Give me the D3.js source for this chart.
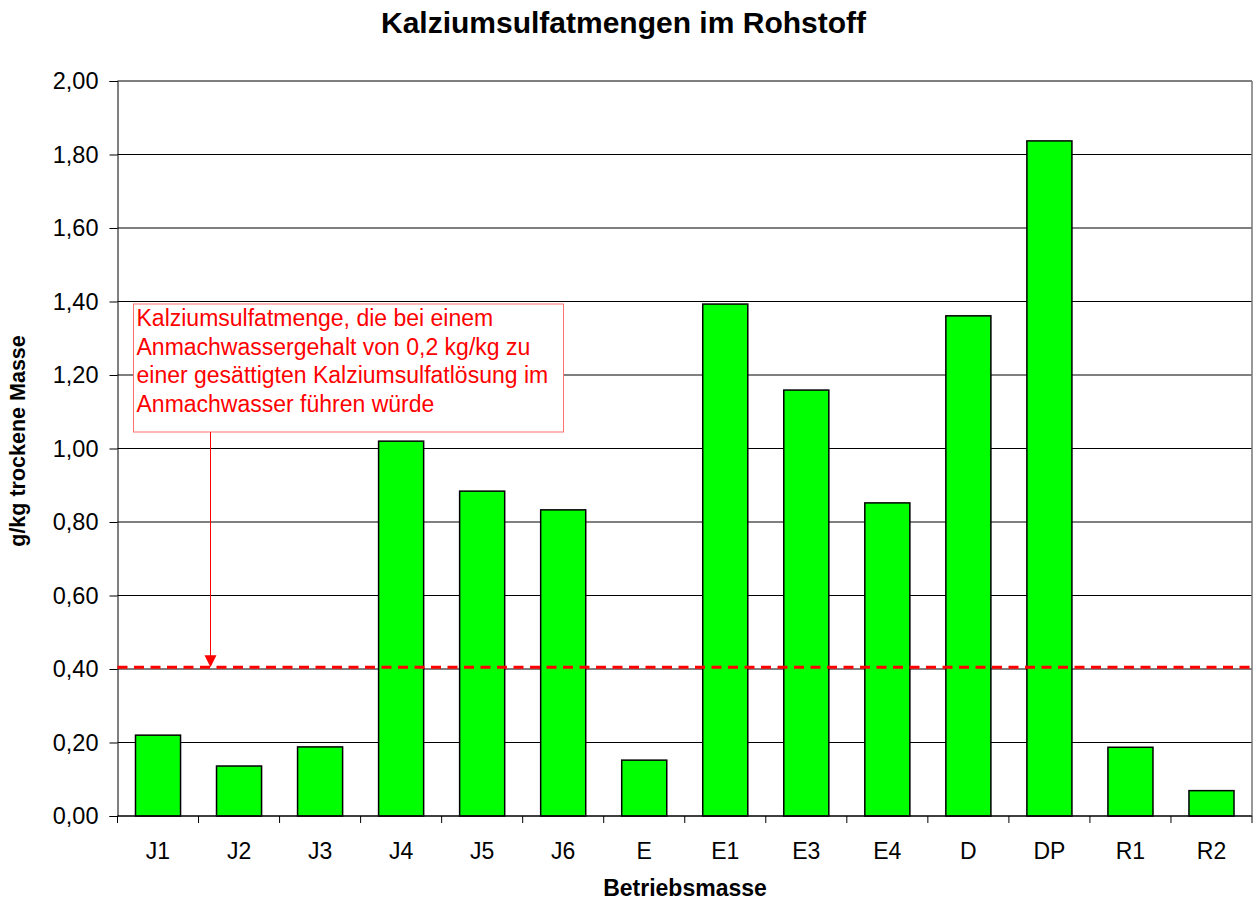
<!DOCTYPE html>
<html>
<head>
<meta charset="utf-8">
<script src="https://cdn.jsdelivr.net/npm/d3@7/dist/d3.min.js"></script>
<style>
  body { margin: 0; background: #fff; }
  svg { font-family: Arial, "Liberation Sans", sans-serif; }
</style>
</head>
<body>
<div id="chart"></div>
<script>
// values (g/kg trockene Masse)
const CATEGORIES = ["J1", "J2", "J3", "J4", "J5", "J6", "E", "E1", "E3", "E4", "D", "DP", "R1", "R2"];
const VALUES = [0.22, 0.136, 0.188, 1.02, 0.884, 0.833, 0.152, 1.393, 1.159, 0.852, 1.361, 1.837, 0.187, 0.069];
const Y_TICKS = [0, 0.2, 0.4, 0.6, 0.8, 1.0, 1.2, 1.4, 1.6, 1.8, 2.0];
const LIMIT = 0.405;
const NOTE_LINES = [
  "Kalziumsulfatmenge, die bei einem",
  "Anmachwassergehalt von 0,2 kg/kg zu",
  "einer gesättigten Kalziumsulfatlösung im",
  "Anmachwasser führen würde"
];

const width = 1258, height = 900;
const margin = { top: 81, left: 117.5, right: 6, bottom: 84 };

const svg = d3.select('#chart').append('svg')
  .attr('width', width)
  .attr('height', height);

const x = d3.scaleBand()
  .domain(CATEGORIES)
  .range([margin.left, width - margin.right])
  .paddingInner(0.444)
  .paddingOuter(0.222);

const y = d3.scaleLinear()
  .domain([0, 2])
  .range([height - margin.bottom, margin.top]);

const fmt = d => d3.format(".2f")(d).replace(".", ",");

// gridlines
svg.append('g')
  .selectAll('line')
  .data(Y_TICKS)
  .enter()
  .append('line')
  .attr('x1', margin.left)
  .attr('x2', width - margin.right)
  .attr('y1', d => y(d))
  .attr('y2', d => y(d))
  .attr('stroke', '#000')
  .attr('stroke-width', 1);

// right border
svg.append('line')
  .attr('x1', width - margin.right).attr('x2', width - margin.right)
  .attr('y1', y(2)).attr('y2', y(0))
  .attr('stroke', '#777').attr('stroke-width', 1.5);

// bars
svg.append('g')
  .selectAll('rect')
  .data(VALUES)
  .enter()
  .append('rect')
  .attr('x', (d, i) => x(CATEGORIES[i]))
  .attr('width', x.bandwidth())
  .attr('y', d => y(d))
  .attr('height', d => y(0) - y(d))
  .attr('fill', '#00ff00')
  .attr('stroke', '#000')
  .attr('stroke-width', 1.5);

// y axis
const yAxis = svg.append('g')
  .attr('transform', `translate(${margin.left},0)`)
  .call(d3.axisLeft(y).tickValues(Y_TICKS).tickFormat(fmt).tickSize(8).tickPadding(11));
yAxis.select('.domain').attr('stroke', '#000');
yAxis.selectAll('text').attr('font-size', 23.5).attr('fill', '#000')
  .attr('font-family', 'Arial, "Liberation Sans", sans-serif');

// x axis: ticks between categories
const step = x.step();
const bounds = d3.range(CATEGORIES.length + 1).map(i => margin.left + i * step);
svg.append('line')
  .attr('x1', margin.left).attr('x2', width - margin.right)
  .attr('y1', y(0)).attr('y2', y(0))
  .attr('stroke', '#000');
svg.append('g')
  .selectAll('line')
  .data(bounds)
  .enter()
  .append('line')
  .attr('x1', d => d).attr('x2', d => d)
  .attr('y1', y(0)).attr('y2', y(0) + 7)
  .attr('stroke', '#000');
svg.append('g')
  .selectAll('text')
  .data(CATEGORIES)
  .enter()
  .append('text')
  .attr('x', d => x(d) + x.bandwidth() / 2)
  .attr('y', 859)
  .attr('text-anchor', 'middle')
  .attr('font-size', 23)
  .text(d => d);

// limit line
svg.append('line')
  .attr('x1', margin.left).attr('x2', width - margin.right)
  .attr('y1', y(LIMIT)).attr('y2', y(LIMIT))
  .attr('stroke', '#ff0000')
  .attr('stroke-width', 3)
  .attr('stroke-dasharray', '10,6.5');

// annotation box
const box = { x: 133.5, y: 304, w: 430, h: 128 };
svg.append('rect')
  .attr('x', box.x).attr('y', box.y)
  .attr('width', box.w).attr('height', box.h)
  .attr('fill', '#fff')
  .attr('stroke', '#ff7070')
  .attr('stroke-width', 1);
svg.append('g')
  .selectAll('text')
  .data(NOTE_LINES)
  .enter()
  .append('text')
  .attr('x', box.x + 3)
  .attr('y', (d, i) => box.y + 22 + i * 28.6)
  .attr('font-size', 23)
  .attr('fill', '#ff0000')
  .text(d => d);

// arrow
const ax = 210.5;
svg.append('line')
  .attr('x1', ax).attr('x2', ax)
  .attr('y1', box.y + box.h).attr('y2', y(LIMIT) - 10)
  .attr('stroke', '#ff0000').attr('stroke-width', 1);
svg.append('path')
  .attr('d', `M${ax - 6},${y(LIMIT) - 12} L${ax + 6},${y(LIMIT) - 12} L${ax},${y(LIMIT)} Z`)
  .attr('fill', '#ff0000');

// titles
svg.append('text')
  .attr('x', 623.5).attr('y', 33)
  .attr('text-anchor', 'middle')
  .attr('font-size', 30).attr('font-weight', 'bold')
  .text('Kalziumsulfatmengen im Rohstoff');

svg.append('text')
  .attr('x', 685).attr('y', 896)
  .attr('text-anchor', 'middle')
  .attr('font-size', 23).attr('font-weight', 'bold')
  .text('Betriebsmasse');

svg.append('text')
  .attr('transform', `translate(25,441) rotate(-90)`)
  .attr('text-anchor', 'middle')
  .attr('font-size', 21.5).attr('font-weight', 'bold')
  .text('g/kg trockene Masse');
</script>
</body>
</html>
